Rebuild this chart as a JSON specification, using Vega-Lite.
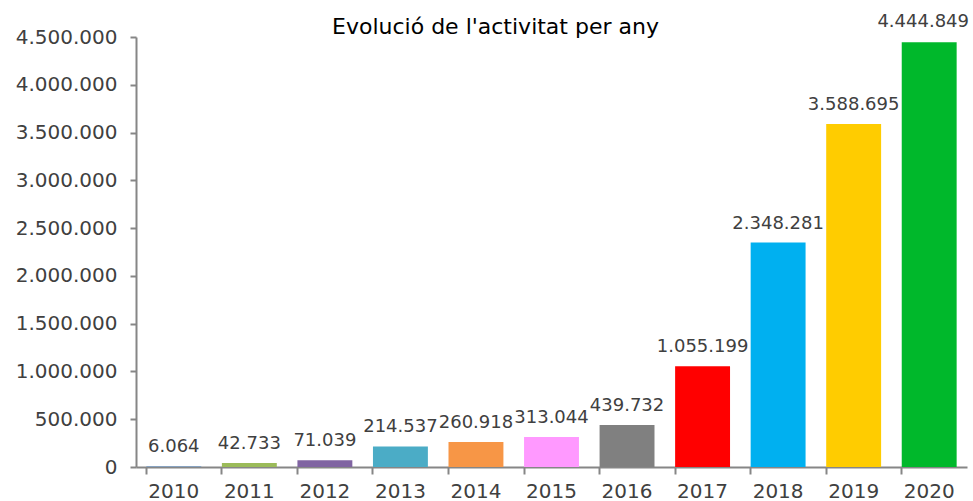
{
  "$schema": "https://vega.github.io/schema/vega-lite/v6.json",
  "autosize": "none",
  "width": 831,
  "height": 430,
  "padding": {"left": 136, "top": 37, "right": 6, "bottom": 34},
  "background": "white",
  "title": {
    "text": "Evolució de l'activitat per any",
    "anchor": "middle",
    "frame": "group",
    "orient": "top",
    "dx": -56,
    "offset": -26,
    "font": "DejaVu Sans",
    "fontSize": 22,
    "fontWeight": "normal",
    "color": "#000000"
  },
  "config": {
    "locale": {"number": {"decimal": ",", "thousands": ".", "grouping": [3], "currency": ["", " €"]}},
    "view": {"stroke": null},
    "axis": {"grid": false, "domainColor": "#868686", "tickColor": "#868686", "domainWidth": 2, "tickWidth": 2, "labelFont": "DejaVu Sans", "labelFontSize": 20, "labelColor": "#404040", "title": null}
  },
  "data": {"values": [
    {"year": "2010", "value": 6064},
    {"year": "2011", "value": 42733},
    {"year": "2012", "value": 71039},
    {"year": "2013", "value": 214537},
    {"year": "2014", "value": 260918},
    {"year": "2015", "value": 313044},
    {"year": "2016", "value": 439732},
    {"year": "2017", "value": 1055199},
    {"year": "2018", "value": 2348281},
    {"year": "2019", "value": 3588695},
    {"year": "2020", "value": 4444849}
  ]},
  "encoding": {
    "x": {"field": "year", "type": "ordinal", "scale": {"paddingInner": 0.273, "paddingOuter": 0.137},
      "axis": {"labelAngle": 0, "tickSize": 7, "labelPadding": 7, "bandPosition": 0, "labelBaseline": "top"}},
    "y": {"field": "value", "type": "quantitative", "scale": {"domain": [0, 4500000], "nice": false},
      "axis": {"values": [0, 500000, 1000000, 1500000, 2000000, 2500000, 3000000, 3500000, 4000000, 4500000], "format": ",d", "tickSize": 6, "labelPadding": 13}}
  },
  "layer": [
    {"mark": {"type": "bar"},
     "encoding": {"color": {"field": "year", "type": "nominal", "legend": null,
       "scale": {"domain": ["2010","2011","2012","2013","2014","2015","2016","2017","2018","2019","2020"],
                 "range": ["#4F81BD","#9BBB59","#8064A2","#4BACC6","#F79646","#FF99FF","#808080","#FF0000","#00B0F0","#FFCC00","#00B82B"]}}}},
    {"transform": [{"filter": "datum.year != '2020'"}],
     "mark": {"type": "text", "baseline": "alphabetic", "dy": -14, "font": "DejaVu Sans", "fontSize": 18, "color": "#404040", "clip": false},
     "encoding": {"text": {"field": "value", "type": "quantitative", "format": ",d"}}},
    {"transform": [{"filter": "datum.year == '2020'"}],
     "mark": {"type": "text", "baseline": "alphabetic", "dy": -15, "dx": -6, "font": "DejaVu Sans", "fontSize": 18, "color": "#404040", "clip": false},
     "encoding": {"text": {"field": "value", "type": "quantitative", "format": ",d"}}}
  ]
}
